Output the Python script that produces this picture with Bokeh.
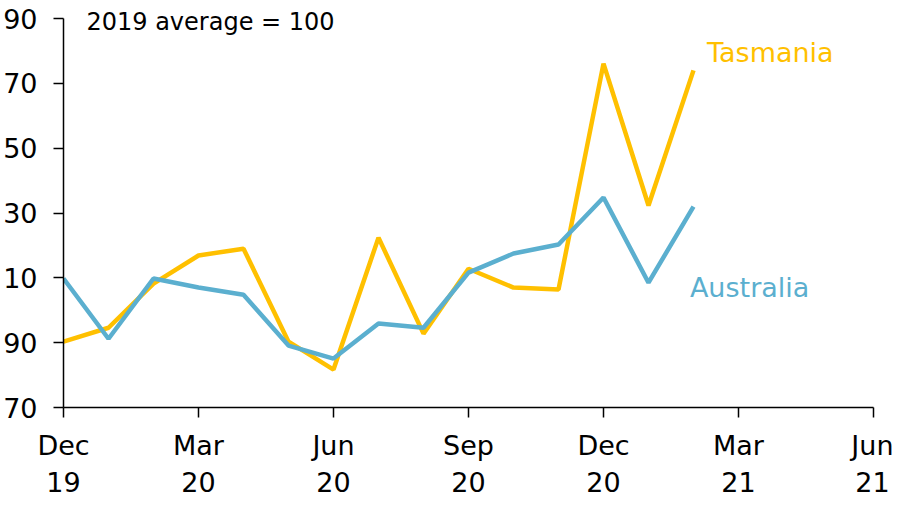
from bokeh.plotting import figure
from bokeh.models import FixedTicker, Range1d, Label
from bokeh.embed import file_html
from bokeh.resources import INLINE

months = list(range(15))  # Dec 19 .. Feb 21
tasmania = [90.3, 94.6, 108.2, 116.9, 119.0, 90.3, 81.7, 122.4, 92.8, 112.8, 107.0, 106.4, 176.1, 132.3, 174.0]
australia = [109.8, 91.2, 109.8, 107.0, 104.8, 89.1, 85.1, 95.9, 94.6, 111.6, 117.5, 120.3, 134.8, 108.5, 132.0]

x_ticks = [0, 3, 6, 9, 12, 15, 18]
x_labels = ["Dec\n19", "Mar\n20", "Jun\n20", "Sep\n20", "Dec\n20", "Mar\n21", "Jun\n21"]
y_ticks = [70, 90, 110, 130, 150, 170, 190]
y_labels = ["70", "90", "10", "30", "50", "70", "90"]

FONT = "DejaVu Sans"
TAS = "#FFC000"
AUS = "#5BAFCF"

p = figure(width=893, height=500, output_backend="svg", toolbar_location=None,
           x_range=Range1d(0, 18), y_range=Range1d(70, 194.94),
           min_border_left=63, min_border_right=20, min_border_top=2, min_border_bottom=93)
p.outline_line_color = None
p.xgrid.visible = False
p.ygrid.visible = False

p.line(months, tasmania, line_color=TAS, line_width=4.5)
p.line(months, australia, line_color=AUS, line_width=4.5)

p.add_layout(Label(x=14.30, y=179.6, text="Tasmania", text_color=TAS, text_font=FONT,
                   text_font_size="27px", text_baseline="alphabetic", text_align="left"))
p.add_layout(Label(x=13.92, y=107.0, text="Australia", text_color=AUS, text_font=FONT,
                   text_font_size="27px", text_baseline="alphabetic", text_align="left"))
p.add_layout(Label(x=0.51, y=188.8, text="2019 average = 100", text_color="#000000", text_font=FONT,
                   text_font_size="24px", text_baseline="alphabetic", text_align="left"))

for ax in (p.xaxis[0], p.yaxis[0]):
    ax.axis_line_color = "black"
    ax.axis_line_width = 1.5
    ax.major_tick_line_color = "black"
    ax.major_tick_line_width = 1.5
    ax.major_tick_out = 10
    ax.major_tick_in = 0
    ax.minor_tick_line_color = None
    ax.major_label_text_font = FONT
    ax.major_label_text_font_size = "27px"
    ax.major_label_text_color = "black"

p.xaxis.ticker = FixedTicker(ticks=x_ticks)
p.xaxis.major_label_overrides = {t: l for t, l in zip(x_ticks, x_labels)}
p.xaxis.major_label_standoff = 12
p.yaxis.ticker = FixedTicker(ticks=y_ticks)
p.yaxis.bounds = (70, 190)
p.yaxis.major_label_overrides = {t: l for t, l in zip(y_ticks, y_labels)}
p.yaxis.major_label_standoff = 16

open("out.html", "w").write(file_html(p, INLINE))
